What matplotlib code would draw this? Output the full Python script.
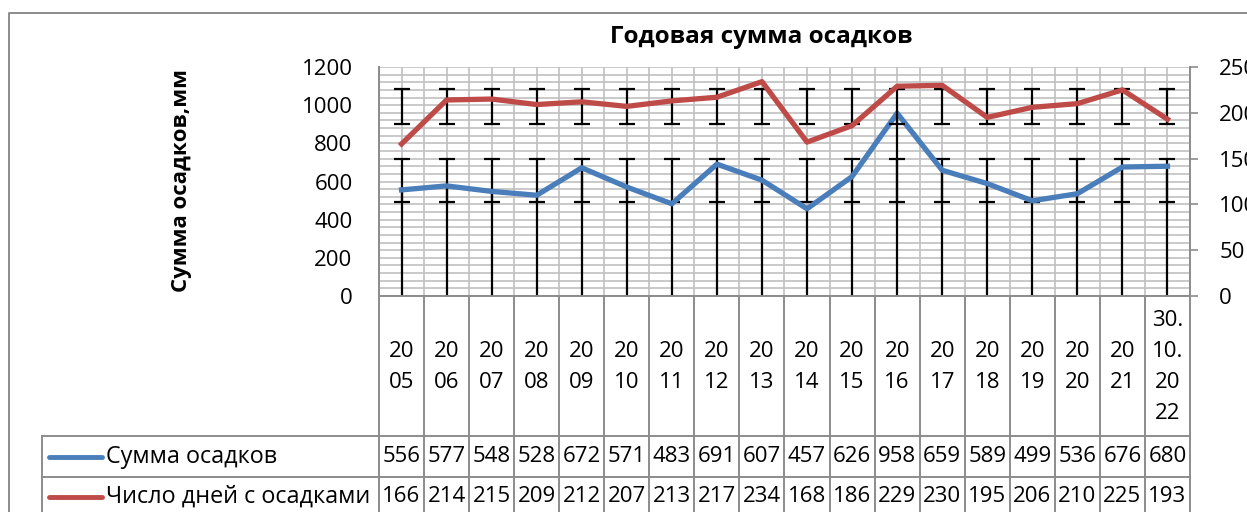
import numpy as np
import matplotlib.pyplot as plt
from matplotlib.lines import Line2D
from matplotlib.transforms import blended_transform_factory

plt.rcParams['font.family'] = ['Open Sans', 'DejaVu Sans']

# data
categories = ['20\n05', '20\n06', '20\n07', '20\n08', '20\n09', '20\n10', '20\n11',
              '20\n12', '20\n13', '20\n14', '20\n15', '20\n16', '20\n17', '20\n18',
              '20\n19', '20\n20', '20\n21', '30.\n10.\n20\n22']
precip = [556, 577, 548, 528, 672, 571, 483, 691, 607, 457, 626, 958, 659, 589, 499, 536, 676, 680]
days = [166, 214, 215, 209, 212, 207, 213, 217, 234, 168, 186, 229, 230, 195, 206, 210, 225, 193]
series_names = ['Сумма осадков', 'Число дней с осадками']

blue = '#4a7ebb'
red = '#be4b48'
grid_c = '#c0c0c0'
line_c = '#8c8c8c'
fs = 16

W, H = 1247, 512
def fx(px):
    return px / W
def fy(py):
    return 1 - py / H

fig = plt.figure(figsize=(W / 100, H / 100), dpi=100)
ax = fig.add_axes([fx(379), fy(296), (1190 - 379) / W, (296 - 67) / H])
ax2 = ax.twinx()

n = len(precip)
x = np.arange(n)

# grid
for gx in np.arange(-0.5, n, 0.5):
    ax.axvline(gx, color=grid_c, lw=1.2, zorder=0)
for gy in range(0, 1201, 40):
    ax.axhline(gy, color=grid_c, lw=1.2, zorder=0)

# drop lines and standard deviation error bars (Excel style, centred on mean)
ax.vlines(x, 0, precip, color='black', lw=1.6, zorder=1)
ax.errorbar(x, [np.mean(precip)] * n, yerr=np.std(precip, ddof=1), fmt='none',
            ecolor='black', elinewidth=1.6, capsize=6, capthick=1.6, zorder=2)
ax.plot(x, precip, color=blue, lw=3.8, solid_joinstyle='round', zorder=3)

ax2.errorbar(x, [np.mean(days)] * n, yerr=np.std(days, ddof=1), fmt='none',
             ecolor='black', elinewidth=1.6, capsize=6, capthick=1.6, zorder=2)
ax2.plot(x, days, color=red, lw=3.8, solid_joinstyle='round', zorder=3)

ax.set_xlim(-0.5, n - 0.5)
ax.set_ylim(0, 1200)
ax2.set_ylim(0, 250)
ax.set_yticks(range(0, 1201, 200))
ax2.set_yticks(range(0, 251, 50))
ax.set_xticks([])
ax.tick_params(axis='y', length=0, pad=19, labelsize=fs)
ax2.tick_params(axis='y', length=6, width=1.2, color=line_c, pad=15, labelsize=fs)
for a in (ax, ax2):
    for s in a.spines.values():
        s.set_visible(False)
ax.spines['bottom'].set_visible(True)
ax.spines['bottom'].set_color(line_c)
ax.spines['bottom'].set_linewidth(1.4)
ax.spines['left'].set_visible(True)
ax.spines['left'].set_color(line_c)
ax.spines['left'].set_linewidth(1.4)
ax2.spines['right'].set_visible(True)
ax2.spines['right'].set_color(line_c)
ax2.spines['right'].set_linewidth(1.4)

# data table under the plot
trans = blended_transform_factory(ax.transData, fig.transFigure)
for bx in np.arange(-0.5, n, 1.0):
    ax.plot([bx, bx], [fy(296), 0], color=line_c, lw=1.4, transform=trans, clip_on=False)
for ry in (436, 477):
    fig.add_artist(Line2D([fx(42), fx(1190)], [fy(ry), fy(ry)], color=line_c, lw=1.4))
fig.add_artist(Line2D([fx(42), fx(42)], [fy(436), 0], color=line_c, lw=1.4))

for i, lab in enumerate(categories):
    ax.text(i, fy(367), lab, transform=trans, ha='center', va='center',
            fontsize=fs, linespacing=1.62)
for row_y, vals, col, name in ((457, precip, blue, series_names[0]),
                               (497, days, red, series_names[1])):
    for i, v in enumerate(vals):
        ax.text(i, fy(row_y), str(v), transform=trans, ha='center', va='center', fontsize=fs)
    fig.add_artist(Line2D([fx(49), fx(102)], [fy(row_y), fy(row_y)], color=col,
                          lw=3.5, solid_capstyle='round'))
    fig.text(fx(106), fy(row_y), name, ha='left', va='center', fontsize=fs + 0.8)

# titles
fig.text(fx(761), fy(37), 'Годовая сумма осадков', ha='center', va='center',
         fontsize=17.5, fontweight='bold')
fig.text(fx(182), fy(181), 'Сумма осадков,мм', ha='center', va='center',
         rotation=90, fontsize=fs, fontweight='bold')

# chart border (cropped on the right and bottom)
fig.add_artist(Line2D([fx(9), fx(9), 1], [0, fy(13), fy(13)], color=line_c, lw=1.4))

fig.savefig('out.png', dpi=100)
